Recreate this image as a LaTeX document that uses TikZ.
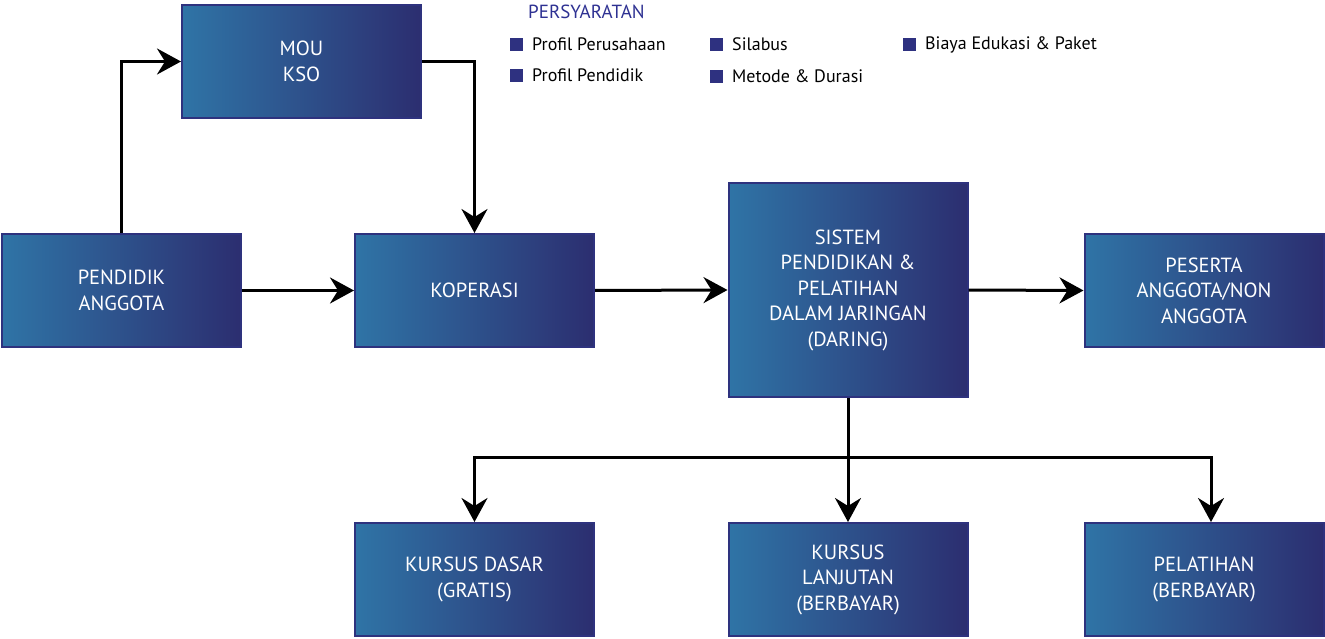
\documentclass[tikz,border=0pt]{standalone}
\usepackage{fontspec}
\setmainfont{PT Sans}
\usetikzlibrary{arrows.meta}
\definecolor{gradL}{RGB}{47,116,166}
\definecolor{gradR}{RGB}{44,46,112}
\definecolor{boxborder}{RGB}{46,50,126}
\definecolor{navy}{RGB}{46,49,128}
\definecolor{titlenavy}{RGB}{46,49,146}
\tikzset{
  flowbox/.style={draw=boxborder, line width=2pt, left color=gradL, right color=gradR,
    minimum width=239pt, minimum height=113pt, inner sep=0pt, align=center,
    text=white, font=\fontsize{20.5}{25.5}\selectfont},
  conn/.style={line width=3pt, -{Stealth[length=24pt,width=26pt,inset=8pt]}},
  plainconn/.style={line width=3pt},
  legsq/.style={fill=navy, minimum size=13pt, inner sep=0pt},
  legtxt/.style={anchor=west, inner sep=0pt, font=\fontsize{18}{20}\selectfont},
}
\begin{document}
\begin{tikzpicture}[x=1pt,y=-1pt]
\useasboundingbox (0,0) rectangle (1325,639);
% boxes
\node[flowbox] (mou) at (301.5,61.5) {MOU\\KSO};
\node[flowbox] (pend) at (121.5,290.5) {PENDIDIK\\ANGGOTA};
\node[flowbox] (kop) at (474.5,290.5) {KOPERASI};
\node[flowbox, minimum height=214pt] (sis) at (848,290) {SISTEM\\PENDIDIKAN \&\\PELATIHAN\\DALAM JARINGAN\\(DARING)};
\node[flowbox] (pes) at (1204,290.5) {PESERTA\\ANGGOTA/NON\\ANGGOTA};
\node[flowbox] (kd) at (474.5,579.5) {KURSUS DASAR\\(GRATIS)};
\node[flowbox] (kl) at (848,579.5) {KURSUS\\LANJUTAN\\(BERBAYAR)};
\node[flowbox] (pel) at (1204,579.5) {PELATIHAN\\(BERBAYAR)};
% connectors
\coordinate (c1) at (121.5,61.5);
\coordinate (c2) at (474.5,61.5);
\coordinate (bus) at (848,457);
\coordinate (busL) at (474.5,457);
\coordinate (busR) at (1211,457);
\draw[conn] (pend.north) -- (c1) -- (mou.west);
\draw[conn] (mou.east) -- (c2) -- (kop.north);
\draw[conn] (pend.east) -- (kop.west);
\draw[conn] (kop.east) -- (sis.west);
\draw[conn] (sis.east) -- (pes.west);
\draw[plainconn] (sis.south) -- (bus);
\draw[plainconn, line cap=rect] (busL) -- (busR);
\draw[conn] (busL) -- (kd.north);
\draw[conn] (bus) -- (kl.north);
\draw[conn] (busR) -- (busR |- pel.north);
% legend
\node[anchor=west, inner sep=0pt, text=titlenavy, font=\fontsize{19}{21}\selectfont] (title) at (528,12) {PERSYARATAN};
\node[legsq] (s1) at (516.5,44.5) {};
\node[legtxt] (t1) at (532,44.5) {Profil Perusahaan};
\node[legsq] (s2) at (516.5,75.5) {};
\node[legtxt] (t2) at (532,75.5) {Profil Pendidik};
\node[legsq] (s3) at (716.5,44.5) {};
\node[legtxt] (t3) at (732,44.5) {Silabus};
\node[legsq] (s4) at (716.5,76.5) {};
\node[legtxt] (t4) at (732,76.5) {Metode \& Durasi};
\node[legsq] (s5) at (909.5,44.5) {};
\node[legtxt] (t5) at (925,44.5) {Biaya Edukasi \& Paket};
\end{tikzpicture}
\end{document}
